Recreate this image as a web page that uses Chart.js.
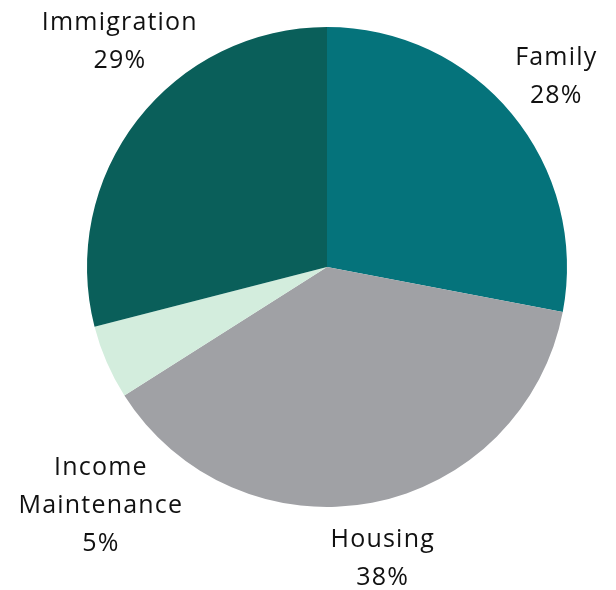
<!DOCTYPE html>
<html lang="en">
<head>
    <meta charset="UTF-8">
    <title>Spending by Category</title>
    <script src="https://cdn.jsdelivr.net/npm/chart.js"></script>
    <style>
        html, body { margin: 0; padding: 0; background: #fff; }
        .wrap { width: 616px; height: 590px; position: relative; }
    </style>
</head>
<body>
    <div class="wrap">
        <canvas id="pieChart"></canvas>
    </div>

    <script>
        // Chart data
        const categories = ['Family', 'Housing', 'Income\nMaintenance', 'Immigration'];
        const shares = [28, 38, 5, 29];
        const sliceColors = ['#05737b', '#a0a1a5', '#d3eddd', '#0a5f5a'];

        // Label placement: small nudges (px) off the mid-angle position
        const labelNudge = [[0, 0], [0, 0], [47, 121], [28, -43]];

        const outsideLabels = {
            id: 'outsideLabels',
            afterDatasetsDraw(chart) {
                const ctx = chart.ctx;
                const meta = chart.getDatasetMeta(0);
                ctx.save();
                ctx.font = '25px "Open Sans", sans-serif';
                ctx.letterSpacing = '1.2px';
                ctx.fillStyle = '#111';
                ctx.textAlign = 'center';
                ctx.textBaseline = 'middle';
                meta.data.forEach((arc, i) => {
                    const mid = (arc.startAngle + arc.endAngle) / 2;
                    const r = arc.outerRadius * 1.24;
                    const x = arc.x + Math.cos(mid) * r + labelNudge[i][0];
                    const y = arc.y + Math.sin(mid) * r + labelNudge[i][1];
                    const lines = categories[i].split('\n').concat(shares[i] + '%');
                    const lh = 38;
                    const top = y - (lines.length - 1) * lh / 2;
                    lines.forEach((t, k) => ctx.fillText(t, x, top + k * lh));
                });
                ctx.restore();
            }
        };

        new Chart(document.getElementById('pieChart'), {
            type: 'pie',
            data: {
                labels: categories,
                datasets: [{
                    data: shares,
                    backgroundColor: sliceColors,
                    borderWidth: 0
                }]
            },
            options: {
                responsive: true,
                maintainAspectRatio: false,
                animation: false,
                layout: { padding: { left: 87, right: 49, top: 27, bottom: 83 } },
                plugins: {
                    legend: { display: false },
                    tooltip: { enabled: false }
                }
            },
            plugins: [outsideLabels]
        });
    </script>
</body>
</html>
